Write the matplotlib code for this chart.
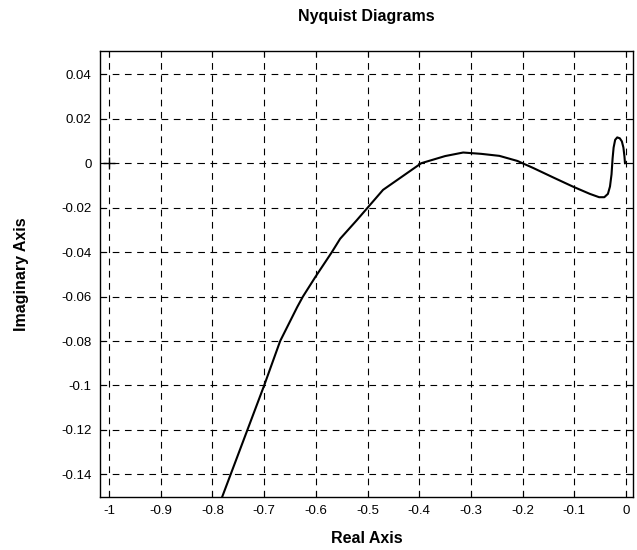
import matplotlib
matplotlib.use("Agg")
from matplotlib import pyplot as plt

# Nyquist curve
re_vals = [-0.781, -0.700, -0.669, -0.636, -0.625, -0.601, -0.569, -0.553,
           -0.521, -0.470, -0.396, -0.350, -0.315, -0.280, -0.245,
           -0.210, -0.180, -0.140, -0.103, -0.070, -0.052, -0.042, -0.035,
           -0.031, -0.028, -0.026, -0.024, -0.021, -0.017, -0.012, -0.008,
           -0.005, -0.003, -0.002]
im_vals = [-0.150, -0.100, -0.080, -0.0647, -0.060, -0.0512, -0.040, -0.034,
           -0.0257, -0.012, 0.000, 0.0032, 0.0048, 0.0042, 0.0033,
           0.0010, -0.0021, -0.0065, -0.0105, -0.0138, -0.0153, -0.0153, -0.0138,
           -0.0105, -0.0050, 0.0020, 0.0070, 0.0105, 0.0116, 0.0112, 0.0098,
           0.0070, 0.0030, 0.0000]

x_ticks = [-1, -0.9, -0.8, -0.7, -0.6, -0.5, -0.4, -0.3, -0.2, -0.1, 0]
x_labels = ["-1", "-0.9", "-0.8", "-0.7", "-0.6", "-0.5", "-0.4", "-0.3", "-0.2", "-0.1", "0"]
y_ticks = [0.04, 0.02, 0, -0.02, -0.04, -0.06, -0.08, -0.1, -0.12, -0.14]
y_labels = ["0.04", "0.02", "0", "-0.02", "-0.04", "-0.06", "-0.08", "-0.1", "-0.12", "-0.14"]

plt.rcParams['font.family'] = ['Liberation Sans', 'DejaVu Sans']

fig = plt.figure(figsize=(6.37, 5.5), dpi=100)
ax = fig.add_axes([0.157, 0.097, 0.8367, 0.810])

ax.plot(re_vals, im_vals, color="black", lw=1.5)
# critical point marker
ax.plot([-1], [0], marker="+", color="black", ms=8, mew=1)

ax.set_xlim(-1.0175, 0.0135)
ax.set_ylim(-0.15, 0.0504)
ax.set_xticks(x_ticks)
ax.set_xticklabels(x_labels)
ax.set_yticks(y_ticks)
ax.set_yticklabels(y_labels)

ax.grid(True, color="black", lw=0.8, linestyle=(0, (6, 5)))
ax.tick_params(direction="in", length=4, width=0.8, top=True, right=True,
               labelsize=9.5, colors="black", pad=6)
for s in ax.spines.values():
    s.set_linewidth(1.0)

ax.set_title("Nyquist Diagrams", fontsize=11.5, fontweight="bold", pad=22)
ax.set_xlabel("Real Axis", fontsize=11.5, fontweight="bold", labelpad=10)
ax.set_ylabel("Imaginary Axis", fontsize=11.5, fontweight="bold", labelpad=23)

fig.savefig("out.png", dpi=100)
